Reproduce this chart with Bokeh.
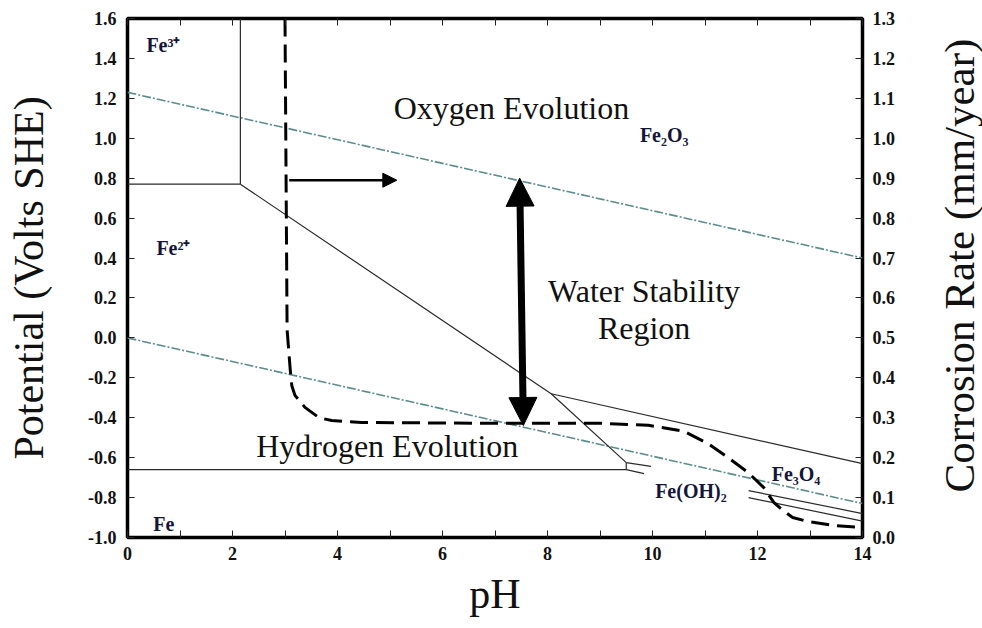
import math
from bokeh.plotting import figure
from bokeh.layouts import row
from bokeh.models import (Range1d, LinearAxis, FixedTicker, NumeralTickFormatter,
                          Arrow, NormalHead)
from bokeh.embed import file_html
from bokeh.resources import INLINE
from bokeh.core.properties import value

# ---------------- data ----------------
PH_RANGE = [0, 14]
E_RANGE = [-1.0, 1.6]
RATE_RANGE = [0.0, 1.3]

x_major_ticks = [0, 2, 4, 6, 8, 10, 12, 14]
x_minor_ticks = [1, 3, 5, 7, 9, 11, 13]
x_top_ticks = list(range(0, 15))
e_ticks = [-1.0, -0.8, -0.6, -0.4, -0.2, 0.0, 0.2, 0.4, 0.6, 0.8, 1.0, 1.2, 1.4, 1.6]
rate_ticks = [0.0, 0.1, 0.2, 0.3, 0.4, 0.5, 0.6, 0.7, 0.8, 0.9, 1.0, 1.1, 1.2, 1.3]

# water stability lines
o2_ph = [0, 14]
o2_e = [1.23, 0.40]
h2_ph = [0, 14]
h2_e = [0.0, -0.83]

# Pourbaix boundaries
fe3_fe2_ph = [0, 2.15]
fe3_fe2_e = [0.77, 0.77]
fe3_oxide_ph = [2.15, 2.15]
fe3_oxide_e = [0.77, 1.6]
fe2_oxide_ph = [2.15, 8.07, 9.5]
fe2_oxide_e = [0.77, -0.28, -0.625]
fe3o4_fe2o3_ph = [8.07, 14]
fe3o4_fe2o3_e = [-0.28, -0.63]
fe_fe2_ph = [0, 9.5, 9.5]
fe_fe2_e = [-0.66, -0.66, -0.625]
fe_oh_a_ph = [9.5, 9.97]
fe_oh_a_e = [-0.625, -0.644]
fe_oh_b_ph = [9.5, 9.84]
fe_oh_b_e = [-0.66, -0.68]
fe3o4_a_ph = [11.83, 14]
fe3o4_a_e = [-0.765, -0.88]
fe3o4_b_ph = [11.83, 14]
fe3o4_b_e = [-0.80, -0.918]

# corrosion rate curve (right axis, mm/year)
rate_ph = [3.0, 3.04, 3.10, 3.13, 3.19, 3.38, 3.65, 3.89, 4.46, 7.12, 9.02, 9.92,
           10.6, 11.06, 11.44, 11.82, 12.12, 12.31, 12.48, 12.67, 12.96, 13.45, 13.96]
rate_val = [1.30, 0.52, 0.42, 0.38, 0.356, 0.326, 0.30, 0.293, 0.288, 0.286, 0.286, 0.281,
            0.266, 0.235, 0.20, 0.163, 0.125, 0.088, 0.068, 0.050, 0.040, 0.030, 0.025]

# region labels
big_labels = ["Oxygen Evolution", "Water Stability", "Region", "Hydrogen Evolution"]
big_x = [5.07, 9.84, 9.84, 2.45]
big_y = [1.15, 0.237, 0.052, -0.54]
big_align = ["left", "center", "center", "left"]

species_labels = ["Fe³⁺", "Fe²⁺", "Fe", "Fe₂O₃", "Fe(OH)₂", "Fe₃O₄"]
species_x = [0.36, 0.55, 0.49, 9.76, 10.05, 12.27]
species_y = [1.465, 0.448, -0.93, 1.014, -0.765, -0.68]

right_title = "Corrosion Rate (mm/year)"

# arrows
shift_arrow = dict(x0=3.08, y0=0.79, x1=5.13, y1=0.79)
water_arrow = dict(x0=7.47, y0=0.80, x1=7.54, y1=-0.439)

SERIF = "Liberation Serif"
TXT = "#111111"

p = figure(width=930, height=628, output_backend="svg", toolbar_location=None,
           x_range=Range1d(*PH_RANGE), y_range=Range1d(*E_RANGE),
           min_border_left=127, min_border_right=68, min_border_top=18,
           min_border_bottom=91, x_axis_location=None, y_axis_location=None)
p.title = None
p.xgrid.visible = False
p.ygrid.visible = False
p.outline_line_color = "black"
p.outline_line_width = 3.5
p.background_fill_color = "white"
p.border_fill_color = "white"
p.extra_y_ranges = {"rate": Range1d(*RATE_RANGE)}


def style_axis(ax, size="18px"):
    ax.axis_line_color = None
    ax.major_tick_in = 7
    ax.major_tick_out = 0
    ax.minor_tick_in = 7
    ax.minor_tick_out = 0
    ax.major_tick_line_color = "#222222"
    ax.minor_tick_line_color = "#222222"
    ax.major_label_text_font = SERIF
    ax.major_label_text_font_style = "bold"
    ax.major_label_text_font_size = size
    ax.major_label_text_color = TXT
    ax.axis_label_text_font = SERIF
    ax.axis_label_text_font_style = "normal"
    ax.axis_label_text_font_size = "42px"
    ax.axis_label_text_color = TXT


xb = LinearAxis(ticker=FixedTicker(ticks=x_major_ticks, minor_ticks=x_minor_ticks),
                formatter=NumeralTickFormatter(format="0"), axis_label="pH")
style_axis(xb)
xb.major_label_standoff = 9
xb.axis_label_standoff = 8
p.add_layout(xb, "below")

xt = LinearAxis(ticker=FixedTicker(ticks=x_top_ticks),
                major_label_overrides={t: "" for t in x_top_ticks})
style_axis(xt)
xt.major_label_standoff = 0
p.add_layout(xt, "above")

yl = LinearAxis(ticker=FixedTicker(ticks=e_ticks),
                formatter=NumeralTickFormatter(format="0.0"),
                axis_label="Potential (Volts SHE)")
style_axis(yl)
yl.major_label_standoff = 11
yl.axis_label_standoff = 33
p.add_layout(yl, "left")

yr = LinearAxis(y_range_name="rate", ticker=FixedTicker(ticks=rate_ticks),
                formatter=NumeralTickFormatter(format="0.0"))
style_axis(yr)
yr.major_label_standoff = 10
p.add_layout(yr, "right")

# water lines
WATER = "#5d8c8c"
p.line(o2_ph, o2_e, line_color=WATER, line_width=1.6, line_dash="9 2 2 2")
p.line(h2_ph, h2_e, line_color=WATER, line_width=1.6, line_dash="9 2 2 2")

# boundaries
BND = "#2a2a2a"
for xs, ys in [(fe3_fe2_ph, fe3_fe2_e), (fe3_oxide_ph, fe3_oxide_e),
               (fe2_oxide_ph, fe2_oxide_e), (fe3o4_fe2o3_ph, fe3o4_fe2o3_e),
               (fe_fe2_ph, fe_fe2_e), (fe_oh_a_ph, fe_oh_a_e), (fe_oh_b_ph, fe_oh_b_e),
               (fe3o4_a_ph, fe3o4_a_e), (fe3o4_b_ph, fe3o4_b_e)]:
    p.line(xs, ys, line_color=BND, line_width=1.2)

# corrosion rate curve
p.line(rate_ph, rate_val, y_range_name="rate", line_color="black", line_width=3,
       line_dash="18 8")

# arrows
p.add_layout(Arrow(end=NormalHead(size=14, fill_color="black", line_color="black"),
                   x_start=shift_arrow["x0"], y_start=shift_arrow["y0"],
                   x_end=shift_arrow["x1"], y_end=shift_arrow["y1"],
                   line_width=2.5, line_color="black"))
p.add_layout(Arrow(start=NormalHead(size=28, fill_color="black", line_color="black"),
                   end=NormalHead(size=28, fill_color="black", line_color="black"),
                   x_start=water_arrow["x0"], y_start=water_arrow["y0"],
                   x_end=water_arrow["x1"], y_end=water_arrow["y1"],
                   line_width=7, line_color="black"))

# labels
p.text(x=big_x, y=big_y, text=big_labels, text_font=value(SERIF),
       text_font_size="32px", text_color=TXT, text_baseline="middle",
       text_align=big_align)
p.text(x=species_x, y=species_y, text=species_labels, text_font=value(SERIF),
       text_font_style="bold", text_font_size="20px", text_color="#15153a",
       text_baseline="middle", text_align="left")

# right-hand axis title, reading bottom-to-top, in a narrow side panel
side = figure(width=52, height=628, output_backend="svg", toolbar_location=None,
              x_range=Range1d(0, 1), y_range=Range1d(0, 1), min_border=0,
              x_axis_location=None, y_axis_location=None)
side.title = None
side.xgrid.visible = False
side.ygrid.visible = False
side.outline_line_color = None
side.border_fill_color = "white"
side.text(x=[0.56], y=[0.524], text=[right_title], angle=math.pi / 2,
          text_font=value(SERIF), text_font_size="43px", text_color=TXT,
          text_align="center", text_baseline="middle")

layout = row(p, side, spacing=0)
open("out.html", "w").write(file_html(layout, INLINE))
